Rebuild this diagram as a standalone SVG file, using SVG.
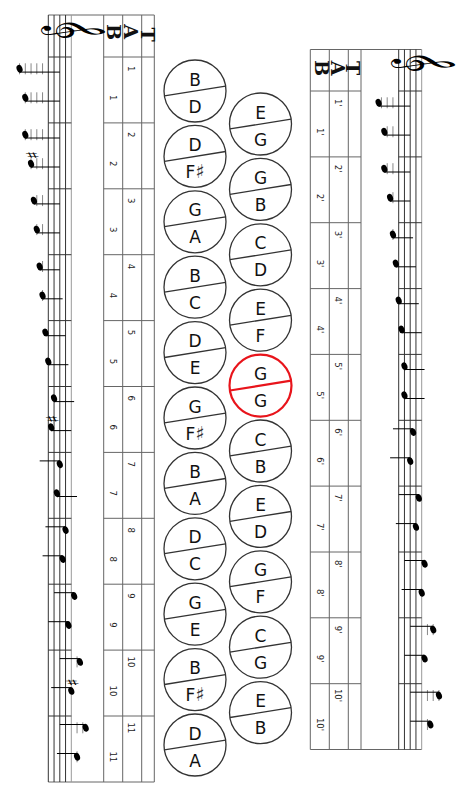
<svg xmlns="http://www.w3.org/2000/svg" width="457" height="800" viewBox="0 0 457 800">
<style>
.tl{stroke:#666;stroke-width:1;fill:none}
.st{stroke:#333;stroke-width:1;fill:none}
.st5{stroke:#999;stroke-width:1;fill:none}
.lg{stroke:#888;stroke-width:1;fill:none}
.stem{stroke:#000;stroke-width:1;fill:none}
.num{font-family:"DejaVu Sans",sans-serif;font-size:8.5px;fill:#222;text-anchor:middle}
.hdr{font-family:"DejaVu Serif",serif;font-weight:bold;font-size:19px;fill:#111;text-anchor:middle}
.sh{font-family:"DejaVu Sans",sans-serif;font-size:17px;fill:#000;text-anchor:middle}
.clef{font-family:"DejaVu Sans","Noto Sans","DejaVu Serif",sans-serif;font-size:54px;fill:#000;text-anchor:middle}
.btn circle{fill:#fff;stroke:#333;stroke-width:1.3}
.btn line{stroke:#333;stroke-width:1.3}
.btn text{font-family:"DejaVu Sans",sans-serif;font-size:17px;fill:#111;text-anchor:middle}
.btn tspan{font-size:19px;fill:#333}
.red circle,.red line{stroke:#e8141b;stroke-width:2.2}
</style>
<defs>
<ellipse id="h" rx="4" ry="2.9" transform="rotate(70)" fill="#000"/>
</defs>

<g id="left-panel">
<path class="tl" d="M48.3 15H154.3M48.3 782H154.3M103.7 15V782M122.7 15V782M141.7 15V782M154.3 15V782"/>
<path class="tl" d="M103.7 57H154.3M103.7 122.9H154.3M103.7 188.8H154.3M103.7 254.7H154.3M103.7 320.6H154.3M103.7 386.5H154.3M103.7 452.4H154.3M103.7 518.3H154.3M103.7 584.2H154.3M103.7 650.1H154.3M103.7 716H154.3"/>
<path class="st" d="M48.3 15V782M54.05 15V782M59.8 15V782M65.55 15V782"/>
<path class="st5" d="M71.3 15V782"/>
<path class="st" d="M48.3 57H71.3M48.3 122.9H71.3M48.3 188.8H71.3M48.3 254.7H71.3M48.3 320.6H71.3M48.3 386.5H71.3M48.3 452.4H71.3M48.3 518.3H71.3M48.3 584.2H71.3M48.3 650.1H71.3M48.3 716H71.3"/>
<text class="clef" transform="translate(57,29) rotate(90) scale(0.68,1)">𝄞</text>
<text class="hdr" transform="translate(113.5,32) rotate(90)" y="7">B</text>
<text class="hdr" transform="translate(131,31.5) rotate(90)" y="7">A</text>
<text class="hdr" transform="translate(147.5,34.5) rotate(90)" y="7">T</text>
<g id="left-numbers">
<text class="num" transform="translate(131,68.8) rotate(90)" y="3">1</text>
<text class="num" transform="translate(112.5,97.8) rotate(90)" y="3">1</text>
<text class="num" transform="translate(131,134.7) rotate(90)" y="3">2</text>
<text class="num" transform="translate(112.5,163.7) rotate(90)" y="3">2</text>
<text class="num" transform="translate(131,200.6) rotate(90)" y="3">3</text>
<text class="num" transform="translate(112.5,229.6) rotate(90)" y="3">3</text>
<text class="num" transform="translate(131,266.5) rotate(90)" y="3">4</text>
<text class="num" transform="translate(112.5,295.5) rotate(90)" y="3">4</text>
<text class="num" transform="translate(131,332.4) rotate(90)" y="3">5</text>
<text class="num" transform="translate(112.5,361.4) rotate(90)" y="3">5</text>
<text class="num" transform="translate(131,398.3) rotate(90)" y="3">6</text>
<text class="num" transform="translate(112.5,427.3) rotate(90)" y="3">6</text>
<text class="num" transform="translate(131,464.2) rotate(90)" y="3">7</text>
<text class="num" transform="translate(112.5,493.2) rotate(90)" y="3">7</text>
<text class="num" transform="translate(131,530.1) rotate(90)" y="3">8</text>
<text class="num" transform="translate(112.5,559.1) rotate(90)" y="3">8</text>
<text class="num" transform="translate(131,596) rotate(90)" y="3">9</text>
<text class="num" transform="translate(112.5,625) rotate(90)" y="3">9</text>
<text class="num" transform="translate(131,661.9) rotate(90)" y="3">10</text>
<text class="num" transform="translate(112.5,690.9) rotate(90)" y="3">10</text>
<text class="num" transform="translate(131,727.8) rotate(90)" y="3">11</text>
<text class="num" transform="translate(112.5,756.8) rotate(90)" y="3">11</text>
</g>
<g id="left-notes">
<path class="lg" d="M42.55 63.3V74.3M36.8 63.3V74.3M31.05 63.3V74.3M25.3 63.3V74.3M19.55 63.3V74.3M42.55 92.3V103.3M36.8 92.3V103.3M31.05 92.3V103.3M25.3 92.3V103.3M42.55 129.2V140.2M36.8 129.2V140.2M31.05 129.2V140.2M25.3 129.2V140.2M42.55 158.2V169.2M36.8 158.2V169.2M31.05 158.2V169.2M42.55 195.1V206.1M36.8 195.1V206.1M42.55 224.1V235.1M36.8 224.1V235.1M42.55 261V272M42.55 290V301M77.05 656.4V667.4M77.05 722.3V733.3M82.8 722.3V733.3M77.05 751.3V762.3"/>
<path class="stem" d="M19.55 72.1H59.8M25.3 101.1H59.8M25.3 138H59.8M31.05 167H59.8M33.93 203.9H59.8M36.8 232.9H59.8M39.68 269.8H59.8M42.55 298.8H62.65M45.43 335.7H65.53M48.3 364.7H68.4M54.05 401.6H74.15M51.18 430.6H71.28M59.8 460.9H39.7M56.93 496.5H77.03M65.55 526.8H45.45M62.68 555.8H42.58M74.18 592.7H54.08M68.43 621.7H48.33M79.93 658.6H59.8M71.3 687.6H51.2M85.68 724.5H59.8M77.05 753.5H56.95"/>
<use href="#h" x="19.55" y="68.8"/><use href="#h" x="25.3" y="97.8"/>
<use href="#h" x="25.3" y="134.7"/><use href="#h" x="31.05" y="163.7"/>
<use href="#h" x="33.93" y="200.6"/><use href="#h" x="36.8" y="229.6"/>
<use href="#h" x="39.68" y="266.5"/><use href="#h" x="42.55" y="295.5"/>
<use href="#h" x="45.43" y="332.4"/><use href="#h" x="48.3" y="361.4"/>
<use href="#h" x="54.05" y="398.3"/><use href="#h" x="51.18" y="427.3"/>
<use href="#h" x="59.8" y="464.2"/><use href="#h" x="56.93" y="493.2"/>
<use href="#h" x="65.55" y="530.1"/><use href="#h" x="62.68" y="559.1"/>
<use href="#h" x="74.18" y="596"/><use href="#h" x="68.43" y="625"/>
<use href="#h" x="79.93" y="661.9"/><use href="#h" x="71.3" y="690.9"/>
<use href="#h" x="85.68" y="727.8"/><use href="#h" x="77.05" y="756.8"/>
<text class="sh" transform="translate(31.05,155.2) rotate(90)" y="5">♯</text>
<text class="sh" transform="translate(51.18,418.8) rotate(90)" y="5">♯</text>
<text class="sh" transform="translate(71.3,682.4) rotate(90)" y="5">♯</text>
</g>
</g>

<g id="right-panel">
<path class="tl" d="M310.3 49.5H421.7M310.3 749.5H421.7M310.3 49.5V749.5M329.3 49.5V749.5M348.3 49.5V749.5M361 49.5V749.5"/>
<path class="tl" d="M310.3 91H361M310.3 156.9H361M310.3 222.7H361M310.3 288.6H361M310.3 354.4H361M310.3 420.3H361M310.3 486.1H361M310.3 552H361M310.3 617.8H361M310.3 683.7H361"/>
<path class="st" d="M398.7 49.5V749.5M404.45 49.5V749.5M410.2 49.5V749.5M415.95 49.5V749.5"/>
<path class="st5" d="M421.7 49.5V749.5"/>
<path class="st" d="M398.7 91H421.7M398.7 156.9H421.7M398.7 222.7H421.7M398.7 288.6H421.7M398.7 354.4H421.7M398.7 420.3H421.7M398.7 486.1H421.7M398.7 552H421.7M398.7 617.8H421.7M398.7 683.7H421.7"/>
<text class="clef" transform="translate(407,61.5) rotate(90) scale(0.68,1)">𝄞</text>
<text class="hdr" transform="translate(321.5,68) rotate(90)" y="7">B</text>
<text class="hdr" transform="translate(338.3,68) rotate(90)" y="7">A</text>
<text class="hdr" transform="translate(353.3,68) rotate(90)" y="7">T</text>
<g id="right-numbers">
<text class="num" transform="translate(338,102.8) rotate(90)" y="3">1'</text>
<text class="num" transform="translate(319.5,131.8) rotate(90)" y="3">1'</text>
<text class="num" transform="translate(338,168.7) rotate(90)" y="3">2'</text>
<text class="num" transform="translate(319.5,197.7) rotate(90)" y="3">2'</text>
<text class="num" transform="translate(338,234.5) rotate(90)" y="3">3'</text>
<text class="num" transform="translate(319.5,263.5) rotate(90)" y="3">3'</text>
<text class="num" transform="translate(338,300.4) rotate(90)" y="3">4'</text>
<text class="num" transform="translate(319.5,329.4) rotate(90)" y="3">4'</text>
<text class="num" transform="translate(338,366.2) rotate(90)" y="3">5'</text>
<text class="num" transform="translate(319.5,395.2) rotate(90)" y="3">5'</text>
<text class="num" transform="translate(338,432.1) rotate(90)" y="3">6'</text>
<text class="num" transform="translate(319.5,461.1) rotate(90)" y="3">6'</text>
<text class="num" transform="translate(338,497.9) rotate(90)" y="3">7'</text>
<text class="num" transform="translate(319.5,526.9) rotate(90)" y="3">7'</text>
<text class="num" transform="translate(338,563.8) rotate(90)" y="3">8'</text>
<text class="num" transform="translate(319.5,592.8) rotate(90)" y="3">8'</text>
<text class="num" transform="translate(338,629.6) rotate(90)" y="3">9'</text>
<text class="num" transform="translate(319.5,658.6) rotate(90)" y="3">9'</text>
<text class="num" transform="translate(338,695.5) rotate(90)" y="3">10'</text>
<text class="num" transform="translate(319.5,724.5) rotate(90)" y="3">10'</text>
</g>
<g id="right-notes">
<path class="lg" d="M392.95 97.3V108.3M387.2 97.3V108.3M381.45 97.3V108.3M392.95 126.3V137.3M387.2 126.3V137.3M392.95 163.2V174.2M387.2 163.2V174.2M392.95 192.2V203.2M392.95 229V240M427.45 624.1V635.1M433.2 624.1V635.1M427.45 690V701M433.2 690V701M438.95 690V701M427.45 719V730"/>
<path class="stem" d="M378.58 106.1H410.2M384.33 135.1H410.2M384.33 172H410.2M390.08 201H410.2M392.95 237.8H413.05M395.83 266.8H415.93M398.7 303.7H418.8M401.58 332.7H421.68M404.45 369.5H424.55M404.45 398.5H424.55M413.08 428.8H392.98M410.2 457.8H390.1M418.83 494.6H398.73M415.95 523.6H395.85M424.58 560.5H404.48M421.7 589.5H401.6M433.2 626.3H410.2M424.58 655.3H404.48M438.95 692.2H410.2M430.33 721.2H410.2"/>
<use href="#h" x="378.58" y="102.8"/><use href="#h" x="384.33" y="131.8"/>
<use href="#h" x="384.33" y="168.7"/><use href="#h" x="390.08" y="197.7"/>
<use href="#h" x="392.95" y="234.5"/><use href="#h" x="395.83" y="263.5"/>
<use href="#h" x="398.7" y="300.4"/><use href="#h" x="401.58" y="329.4"/>
<use href="#h" x="404.45" y="366.2"/><use href="#h" x="404.45" y="395.2"/>
<use href="#h" x="413.08" y="432.1"/><use href="#h" x="410.2" y="461.1"/>
<use href="#h" x="418.83" y="497.9"/><use href="#h" x="415.95" y="526.9"/>
<use href="#h" x="424.58" y="563.8"/><use href="#h" x="421.7" y="592.8"/>
<use href="#h" x="433.2" y="629.6"/><use href="#h" x="424.58" y="658.6"/>
<use href="#h" x="438.95" y="695.5"/><use href="#h" x="430.33" y="724.5"/>
</g>
</g>

<g id="buttons-left">
<g id="btn-L1" class="btn" transform="translate(195,91)"><circle r="31"/><line x1="-30.6" y1="4.9" x2="30.6" y2="-4.9"/><text y="-5.5">B</text><text y="21.5">D</text></g>
<g id="btn-L2" class="btn" transform="translate(195,156.4)"><circle r="31"/><line x1="-30.6" y1="4.9" x2="30.6" y2="-4.9"/><text y="-5.5">D</text><text y="21.5">F<tspan>♯</tspan></text></g>
<g id="btn-L3" class="btn" transform="translate(195,221.8)"><circle r="31"/><line x1="-30.6" y1="4.9" x2="30.6" y2="-4.9"/><text y="-5.5">G</text><text y="21.5">A</text></g>
<g id="btn-L4" class="btn" transform="translate(195,287.2)"><circle r="31"/><line x1="-30.6" y1="4.9" x2="30.6" y2="-4.9"/><text y="-5.5">B</text><text y="21.5">C</text></g>
<g id="btn-L5" class="btn" transform="translate(195,352.6)"><circle r="31"/><line x1="-30.6" y1="4.9" x2="30.6" y2="-4.9"/><text y="-5.5">D</text><text y="21.5">E</text></g>
<g id="btn-L6" class="btn" transform="translate(195,418)"><circle r="31"/><line x1="-30.6" y1="4.9" x2="30.6" y2="-4.9"/><text y="-5.5">G</text><text y="21.5">F<tspan>♯</tspan></text></g>
<g id="btn-L7" class="btn" transform="translate(195,483.4)"><circle r="31"/><line x1="-30.6" y1="4.9" x2="30.6" y2="-4.9"/><text y="-5.5">B</text><text y="21.5">A</text></g>
<g id="btn-L8" class="btn" transform="translate(195,548.8)"><circle r="31"/><line x1="-30.6" y1="4.9" x2="30.6" y2="-4.9"/><text y="-5.5">D</text><text y="21.5">C</text></g>
<g id="btn-L9" class="btn" transform="translate(195,614.2)"><circle r="31"/><line x1="-30.6" y1="4.9" x2="30.6" y2="-4.9"/><text y="-5.5">G</text><text y="21.5">E</text></g>
<g id="btn-L10" class="btn" transform="translate(195,679.6)"><circle r="31"/><line x1="-30.6" y1="4.9" x2="30.6" y2="-4.9"/><text y="-5.5">B</text><text y="21.5">F<tspan>♯</tspan></text></g>
<g id="btn-L11" class="btn" transform="translate(195,745)"><circle r="31"/><line x1="-30.6" y1="4.9" x2="30.6" y2="-4.9"/><text y="-5.5">D</text><text y="21.5">A</text></g>
</g>
<g id="buttons-right">
<g id="btn-R1" class="btn" transform="translate(260.5,124)"><circle r="31"/><line x1="-30.6" y1="4.9" x2="30.6" y2="-4.9"/><text y="-5.5">E</text><text y="21.5">G</text></g>
<g id="btn-R2" class="btn" transform="translate(260.5,189.4)"><circle r="31"/><line x1="-30.6" y1="4.9" x2="30.6" y2="-4.9"/><text y="-5.5">G</text><text y="21.5">B</text></g>
<g id="btn-R3" class="btn" transform="translate(260.5,254.8)"><circle r="31"/><line x1="-30.6" y1="4.9" x2="30.6" y2="-4.9"/><text y="-5.5">C</text><text y="21.5">D</text></g>
<g id="btn-R4" class="btn" transform="translate(260.5,320.2)"><circle r="31"/><line x1="-30.6" y1="4.9" x2="30.6" y2="-4.9"/><text y="-5.5">E</text><text y="21.5">F</text></g>
<g id="btn-R5" class="btn red" transform="translate(260.5,385.6)"><circle r="31"/><line x1="-30.6" y1="4.9" x2="30.6" y2="-4.9"/><text y="-5.5">G</text><text y="21.5">G</text></g>
<g id="btn-R6" class="btn" transform="translate(260.5,451)"><circle r="31"/><line x1="-30.6" y1="4.9" x2="30.6" y2="-4.9"/><text y="-5.5">C</text><text y="21.5">B</text></g>
<g id="btn-R7" class="btn" transform="translate(260.5,516.4)"><circle r="31"/><line x1="-30.6" y1="4.9" x2="30.6" y2="-4.9"/><text y="-5.5">E</text><text y="21.5">D</text></g>
<g id="btn-R8" class="btn" transform="translate(260.5,581.8)"><circle r="31"/><line x1="-30.6" y1="4.9" x2="30.6" y2="-4.9"/><text y="-5.5">G</text><text y="21.5">F</text></g>
<g id="btn-R9" class="btn" transform="translate(260.5,647.2)"><circle r="31"/><line x1="-30.6" y1="4.9" x2="30.6" y2="-4.9"/><text y="-5.5">C</text><text y="21.5">G</text></g>
<g id="btn-R10" class="btn" transform="translate(260.5,712.6)"><circle r="31"/><line x1="-30.6" y1="4.9" x2="30.6" y2="-4.9"/><text y="-5.5">E</text><text y="21.5">B</text></g>
</g>
</svg>
